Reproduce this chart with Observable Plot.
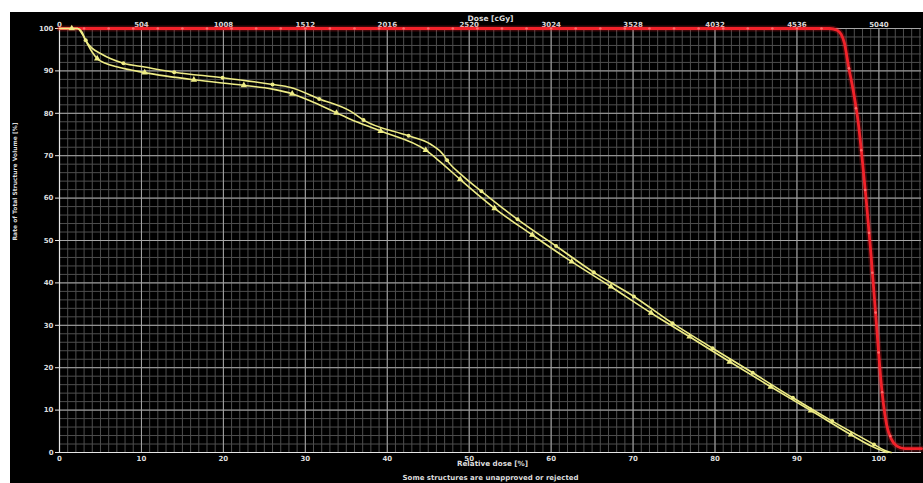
<!DOCTYPE html>
<html><head><meta charset="utf-8">
<script src="https://cdn.jsdelivr.net/npm/d3@7"></script>
<script src="https://cdn.jsdelivr.net/npm/@observablehq/plot@0.6"></script>
<style>
html,body{margin:0;padding:0;background:#fff;}
#panel{position:absolute;left:10px;top:12px;width:913px;height:471px;background:#000;overflow:hidden;}
</style></head><body><div id="panel"></div>
<script>
// Tick values and labels
const relTicks = [0, 10, 20, 30, 40, 50, 60, 70, 80, 90, 100];
const doseLabels = ["0", "504", "1008", "1512", "2016", "2520", "3024", "3528", "4032", "4536", "5040"];
const volTicks = [0, 10, 20, 30, 40, 50, 60, 70, 80, 90, 100];

// Red structure DVH
const redX = [0, 94.0, 94.9, 95.4, 95.8, 96.3, 96.9, 97.5, 98.0, 98.5, 99.0, 99.45, 99.85, 100.2, 100.55, 100.95, 101.5, 102.2, 103.2, 105.2];
const redY = [100, 100, 99.6, 98.6, 96.5, 91.0, 85.0, 77.5, 68.5, 58.5, 47.5, 36.5, 26.5, 18.0, 11.5, 6.5, 3.2, 1.5, 0.9, 0.9];
const redMarkX = [3, 6, 9, 12, 15, 18, 21, 24, 27, 30, 33, 36, 39, 42, 45, 48, 51, 54, 57, 60, 63, 66, 69, 72, 75, 78, 81, 84, 87, 90, 93, 96.34, 97.2, 97.85, 98.33, 98.8, 99.2, 99.6, 99.97, 100.4, 101.4];
const redMarkY = [100, 100, 100, 100, 100, 100, 100, 100, 100, 100, 100, 100, 100, 100, 100, 100, 100, 100, 100, 100, 100, 100, 100, 100, 100, 100, 100, 100, 100, 100, 100, 90.6, 81.2, 71.3, 61.9, 51.8, 42.4, 33.0, 23.6, 14.2, 3.9];

// Yellow structure A (circle markers)
const yelAX = [0, 2.2, 2.7, 3.2, 4.0, 5.0, 6.2, 7.8, 10.4, 14.0, 19.9, 26.0, 28.2, 31.7, 35.5, 37.1, 42.6, 45.3, 46.9, 47.3, 49.0, 51.5, 55.9, 60.6, 65.2, 70.1, 74.8, 79.7, 84.6, 89.5, 94.3, 99.4, 100.6, 101.5];
const yelAY = [100, 100, 99.3, 97.2, 95.3, 94.1, 92.9, 91.8, 90.9, 89.7, 88.4, 86.8, 86.1, 83.4, 80.5, 78.4, 74.7, 72.7, 70.1, 68.9, 65.6, 61.6, 55.0, 48.7, 42.5, 36.8, 30.5, 24.6, 18.8, 12.9, 7.4, 1.9, 0.6, 0];
const yelAMarkX = [3.2, 7.8, 14.0, 19.9, 26.0, 31.7, 37.1, 42.6, 47.3, 51.5, 55.9, 60.6, 65.2, 70.1, 74.8, 79.7, 84.6, 89.5, 94.3, 99.4];
const yelAMarkY = [97.2, 91.8, 89.7, 88.4, 86.8, 83.4, 78.4, 74.7, 68.9, 61.6, 55.0, 48.7, 42.5, 36.8, 30.5, 24.6, 18.8, 12.9, 7.4, 1.9];

// Yellow structure B (triangle markers)
const yelBX = [0, 1.5, 2.2, 2.8, 3.4, 4.0, 4.6, 5.6, 7.1, 10.4, 16.4, 22.5, 26.0, 28.4, 30.5, 33.8, 35.5, 39.2, 44.7, 46.5, 48.9, 53.1, 57.7, 62.5, 67.3, 72.2, 76.9, 81.8, 86.8, 91.7, 96.6, 99.0, 100.3, 101.0];
const yelBY = [100, 100, 100, 98.6, 96.4, 94.4, 92.9, 91.8, 90.9, 89.6, 87.9, 86.6, 85.7, 84.6, 83.0, 80.1, 78.6, 75.8, 71.3, 68.5, 64.4, 57.6, 51.3, 45.0, 39.1, 32.9, 27.3, 21.4, 15.5, 9.9, 4.2, 1.6, 0.5, 0];
const yelBMarkX = [1.5, 4.6, 10.4, 16.4, 22.5, 28.4, 33.8, 39.2, 44.7, 48.9, 53.1, 57.7, 62.5, 67.3, 72.2, 76.9, 81.8, 86.8, 91.7, 96.6];
const yelBMarkY = [100, 92.9, 89.6, 87.9, 86.6, 84.6, 80.1, 75.8, 71.3, 64.4, 57.6, 51.3, 45.0, 39.1, 32.9, 27.3, 21.4, 15.5, 9.9, 4.2];

const toPts = (xs, ys) => xs.map((x, i) => ({x, y: ys[i]}));
const red = toPts(redX, redY), redM = toPts(redMarkX, redMarkY);
const yA = toPts(yelAX, yelAY), yAM = toPts(yelAMarkX, yelAMarkY);
const yB = toPts(yelBX, yelBY), yBM = toPts(yelBMarkX, yelBMarkY);

const xMinor = d3.range(0, 106, 1);
const yMinor = d3.range(0, 101, 2);
const YEL = "#eeec86";
const RED = "#f2222a";
const TXT = "#dcdcdc";

const chart = Plot.plot({
  width: 913, height: 471,
  marginLeft: 49, marginRight: 2, marginTop: 16, marginBottom: 31,
  style: {background: "#000", color: TXT, fontFamily: "DejaVu Sans, sans-serif", fontSize: "7px", fontWeight: "bold"},
  x: {domain: [0, 105.2]},
  y: {domain: [0, 100]},
  marks: [
    Plot.gridX(xMinor, {stroke: "#4e4e4e", strokeOpacity: 1, strokeWidth: 1}),
    Plot.gridY(yMinor, {stroke: "#4e4e4e", strokeOpacity: 1, strokeWidth: 1}),
    Plot.gridX(relTicks, {stroke: "#a6a6a6", strokeOpacity: 1, strokeWidth: 1}),
    Plot.gridY(volTicks, {stroke: "#a6a6a6", strokeOpacity: 1, strokeWidth: 1}),
    Plot.ruleX([0], {stroke: "#e6e6e6", strokeWidth: 1.2}),
    Plot.ruleY([0], {stroke: "#e6e6e6", strokeWidth: 1.2}),
    Plot.axisX(relTicks, {anchor: "bottom", tickSize: 0, tickPadding: 4, label: null, fill: TXT}),
    Plot.axisX(relTicks, {anchor: "top", tickSize: 0, tickPadding: 2, label: null, fill: TXT, tickFormat: (d) => doseLabels[relTicks.indexOf(d)]}),
    Plot.axisY(volTicks, {anchor: "left", tickSize: 4, tickPadding: 2, label: null, fill: TXT, stroke: "#e6e6e6"}),
    Plot.text(["Dose [cGy]"], {frameAnchor: "top", dy: -13, fill: TXT, fontSize: 7.5}),
    Plot.text(["Relative dose [%]"], {frameAnchor: "bottom", dy: 13, dx: 2, fill: TXT, fontSize: 7.2}),
    Plot.text(["Some structures are unapproved or rejected"], {frameAnchor: "bottom", dy: 27, fill: TXT, fontSize: 7}),
    Plot.text(["Rate of Total Structure Volume [%]"], {frameAnchor: "left", dx: -44, rotate: -90, fill: TXT, fontSize: 6}),
    // red curve with glow
    Plot.line(red, {x: "x", y: "y", stroke: RED, strokeWidth: 6, strokeOpacity: 0.25, curve: "monotone-x"}),
    Plot.line(red, {x: "x", y: "y", stroke: RED, strokeWidth: 2.8, curve: "monotone-x"}),
    Plot.dot(redM, {x: "x", y: "y", r: 1.3, fill: "#ff6a6a", stroke: "none"}),
    // yellow curves
    Plot.line(yA, {x: "x", y: "y", stroke: YEL, strokeWidth: 1.6, curve: "monotone-x"}),
    Plot.line(yB, {x: "x", y: "y", stroke: YEL, strokeWidth: 1.6, curve: "monotone-x"}),
    Plot.dot(yAM, {x: "x", y: "y", r: 2, fill: YEL, stroke: "none"}),
    Plot.dot(yBM, {x: "x", y: "y", r: 2.4, symbol: "triangle", fill: YEL, stroke: "none"})
  ]
});
document.getElementById("panel").appendChild(chart);
</script></body></html>
